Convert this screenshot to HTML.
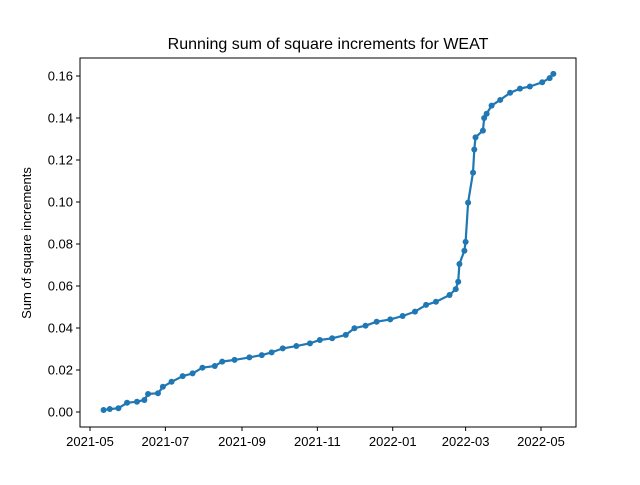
<!DOCTYPE html>
<html><head><meta charset="utf-8"><style>
body{margin:0;background:#fff}
svg{font-family:"Liberation Sans","DejaVu Sans",sans-serif}
</style></head><body>
<svg width="640" height="480" xmlns="http://www.w3.org/2000/svg">
<rect width="640" height="480" fill="#fff"/>
<text x="328" y="49" text-anchor="middle" font-size="16">Running sum of square increments for WEAT</text>
<text transform="translate(31,243) rotate(-90)" text-anchor="middle" font-size="13">Sum of square increments</text>
<g id="ticks"></g>
<g id="plot"></g>
<rect x="80" y="58" width="496" height="369" fill="none" stroke="#000" stroke-width="1"/>
</svg>
<script>
const dates=["2021-05-12","2021-05-17","2021-05-24","2021-05-31","2021-06-08","2021-06-14","2021-06-17","2021-06-25","2021-06-29","2021-07-06","2021-07-15","2021-07-23","2021-07-31","2021-08-10","2021-08-16","2021-08-26","2021-09-07","2021-09-17","2021-09-25","2021-10-04","2021-10-15","2021-10-26","2021-11-03","2021-11-13","2021-11-24","2021-12-01","2021-12-10","2021-12-19","2021-12-30","2022-01-09","2022-01-19","2022-01-28","2022-02-05","2022-02-16","2022-02-21","2022-02-23","2022-02-24","2022-02-28","2022-03-01","2022-03-03","2022-03-07","2022-03-08","2022-03-09","2022-03-15","2022-03-16","2022-03-18","2022-03-22","2022-03-29","2022-04-06","2022-04-14","2022-04-22","2022-05-02","2022-05-08","2022-05-11"];
const values=[0.00095,0.0014,0.0018,0.0044,0.0049,0.0057,0.0086,0.0089,0.012,0.0144,0.0171,0.0184,0.0211,0.0219,0.024,0.0248,0.026,0.0271,0.0284,0.0303,0.0314,0.0327,0.0343,0.0351,0.0367,0.0399,0.0411,0.043,0.0441,0.0457,0.0478,0.051,0.0525,0.0557,0.0585,0.062,0.0705,0.0768,0.081,0.0997,0.114,0.125,0.1308,0.134,0.140,0.142,0.1459,0.1486,0.152,0.154,0.155,0.157,0.159,0.161];
const xTickLabels=["2021-05","2021-07","2021-09","2021-11","2022-01","2022-03","2022-05"];
const yTickValues=[0,0.02,0.04,0.06,0.08,0.10,0.12,0.14,0.16];
const NS="http://www.w3.org/2000/svg";
const t0=Date.UTC(2021,4,1),t1=Date.UTC(2022,4,1);
function ts(s){const p=s.split("-").map(Number);return Date.UTC(p[0],p[1]-1,p[2]||1);}
function xs(s){return 90+(ts(s)-t0)/(t1-t0)*451;}
function ys(v){return 412-v*2100;}
const tk=document.getElementById("ticks"),pl=document.getElementById("plot");
function mk(tag,attrs,parent){const e=document.createElementNS(NS,tag);for(const k in attrs)e.setAttribute(k,attrs[k]);parent.appendChild(e);return e;}
xTickLabels.forEach(l=>{const x=xs(l);
const ln=mk("line",{x1:x,x2:x,y1:427,y2:431,stroke:"#000"},tk);


const t=mk("text",{x:x,y:446,"text-anchor":"middle","font-size":"13"},tk);t.textContent=l;

});
yTickValues.forEach(v=>{const y=ys(v);
const ln=mk("line",{x1:76,x2:80,y1:y,y2:y,stroke:"#000"},tk);


const t=mk("text",{x:73,y:y+4.5,"text-anchor":"end","font-size":"13"},tk);t.textContent=v.toFixed(2);

});
const pts=dates.map((d,i)=>xs(d).toFixed(1)+","+ys(values[i]).toFixed(1)).join(" ");
const line=mk("polyline",{points:pts,fill:"none",stroke:"#1f77b4","stroke-width":"2.2","stroke-linejoin":"round"},pl);


dates.forEach((d,i)=>{const c=mk("circle",{cx:xs(d),cy:ys(values[i]),r:3,fill:"#1f77b4"},pl);

});
</script>
</body></html>
